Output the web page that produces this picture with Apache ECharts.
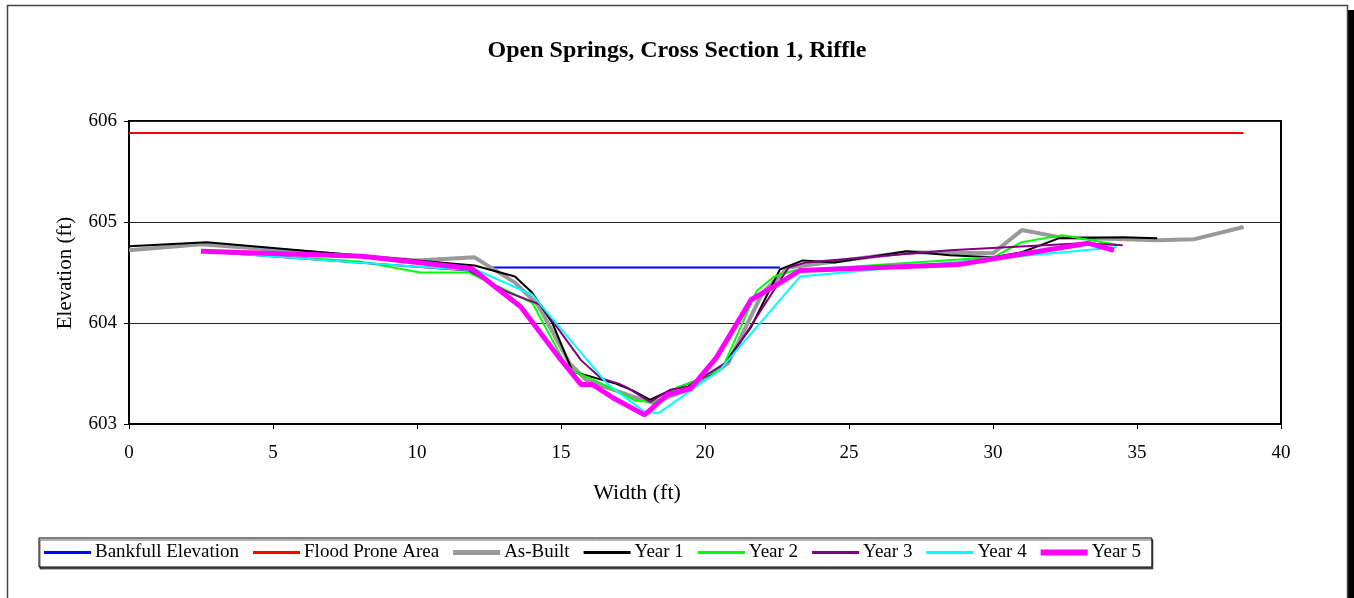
<!DOCTYPE html>
<html>
<head>
<meta charset="utf-8">
<script src="https://cdn.jsdelivr.net/npm/echarts@6/dist/echarts.min.js"></script>
<style>
  html, body { margin: 0; padding: 0; background: #fff; }
  #chart { width: 1354px; height: 598px; }
</style>
</head>
<body>
<div id="chart"></div>
<script>
// Cross-section survey: station (ft) vs elevation (ft)
const titleText = 'Open Springs, Cross Section 1, Riffle';
const xTicks = [0, 5, 10, 15, 20, 25, 30, 35, 40];
const yTicks = [603, 604, 605, 606];

const bankfull = [[12.5, 604.55], [22.6, 604.55]];
const floodProne = [[0, 605.88], [38.7, 605.88]];

const asBuilt = [
  [0, 604.72], [2.5, 604.78], [10.0, 604.62], [12.0, 604.65], [13.4, 604.40],
  [14.2, 604.18], [15.3, 603.60], [15.9, 603.43], [17.5, 603.27], [18.2, 603.21],
  [19.4, 603.34], [20.8, 603.60], [22.0, 604.30], [22.9, 604.55], [27.0, 604.70],
  [30.0, 604.69], [31.0, 604.92], [32.3, 604.85], [35.7, 604.82], [37.0, 604.83],
  [38.7, 604.95]
];
const year1 = [
  [0, 604.76], [2.7, 604.80], [12.0, 604.57], [13.4, 604.46], [14.0, 604.30],
  [14.7, 604.00], [15.4, 603.52], [16.9, 603.40], [17.5, 603.33], [18.1, 603.24],
  [18.7, 603.32], [19.6, 603.42], [20.5, 603.53], [21.6, 603.96], [22.6, 604.53],
  [23.4, 604.62], [24.5, 604.60], [27.0, 604.71], [28.5, 604.67], [30.0, 604.65],
  [31.0, 604.70], [32.3, 604.84], [34.5, 604.85], [35.7, 604.84]
];
const year2 = [
  [2.5, 604.71], [8.0, 604.61], [10.1, 604.50], [11.8, 604.50], [14.0, 604.20],
  [15.1, 603.62], [15.4, 603.53], [16.4, 603.40], [17.6, 603.23], [18.3, 603.22],
  [19.1, 603.37], [19.6, 603.42], [20.6, 603.55], [21.8, 604.32], [22.4, 604.46],
  [23.1, 604.52], [30.0, 604.65], [31.0, 604.80], [32.4, 604.87], [34.4, 604.77]
];
const year3 = [
  [2.5, 604.71], [11.8, 604.52], [13.1, 604.31], [14.3, 604.18], [15.7, 603.63],
  [16.4, 603.45], [17.0, 603.40], [17.3, 603.36], [18.1, 603.22], [18.8, 603.34],
  [19.4, 603.37], [20.8, 603.62], [22.9, 604.55], [23.5, 604.60], [28.5, 604.72],
  [33.1, 604.79], [34.5, 604.77]
];
const year4 = [
  [2.5, 604.71], [9.4, 604.57], [12.1, 604.52], [14.0, 604.28], [16.6, 603.40],
  [17.9, 603.12], [18.4, 603.11], [20.5, 603.53], [23.3, 604.46], [34.3, 604.75]
];
const year5 = [
  [2.5, 604.71], [8.1, 604.66], [11.9, 604.54], [13.6, 604.16], [14.9, 603.67],
  [15.7, 603.39], [16.1, 603.39], [16.8, 603.26], [17.9, 603.09], [18.7, 603.29],
  [19.5, 603.35], [20.4, 603.66], [21.6, 604.23], [22.5, 604.38], [23.3, 604.52],
  [28.8, 604.58], [33.3, 604.79], [34.2, 604.72]
];

const serif = "'Liberation Serif', 'Times New Roman', serif";

// Legend key: a horizontal stroke of the given thickness centred in a 47x14 box
// (two invisible corner specks pin the path's bounding box to the full box).
function strokeIcon(t) {
  const y0 = 7 - t / 2;
  return 'path://M0,0L0.01,0L0,0.01Z M47,14L46.99,14L47,13.99Z M0,' + y0 + 'H47V' + (y0 + t) + 'H0Z';
}

function line(name, data, color, width) {
  return {
    name, type: 'line', data,
    showSymbol: false, symbol: 'none', animation: false,
    lineStyle: { color, width }, itemStyle: { color },
    emphasis: { disabled: true }
  };
}

const chart = echarts.init(document.getElementById('chart'), null, { renderer: 'canvas' });
chart.setOption({
  backgroundColor: '#fff',
  animation: false,
  title: {
    text: titleText, left: 'center', top: 34,
    textStyle: { fontFamily: serif, fontSize: 24, fontWeight: 'bold', color: '#000' }
  },
  grid: {
    left: 129, right: 73, top: 121, bottom: 174,
    show: true, borderColor: '#000', borderWidth: 2, backgroundColor: '#fff'
  },
  xAxis: {
    type: 'value', min: xTicks[0], max: xTicks[xTicks.length - 1], interval: 5,
    axisLine: { show: true, lineStyle: { color: '#000', width: 2 } },
    axisTick: { show: true, inside: false, length: 5, lineStyle: { color: '#000', width: 1 } },
    axisLabel: { fontFamily: serif, fontSize: 19, color: '#000', margin: 20 },
    splitLine: { show: false }
  },
  yAxis: {
    type: 'value', min: yTicks[0], max: yTicks[yTicks.length - 1], interval: 1,
    axisLine: { show: true, lineStyle: { color: '#000', width: 2 } },
    axisTick: { show: true, inside: false, length: 5, lineStyle: { color: '#000', width: 1 } },
    axisLabel: { fontFamily: serif, fontSize: 19, color: '#000', margin: 12 },
    splitLine: { show: true, lineStyle: { color: '#222', width: 1 } }
  },
  legend: {
    left: 39, top: 538,
    itemWidth: 47, itemHeight: 14, itemGap: 14,
    symbolKeepAspect: false,
    padding: [5, 11, 5, 5],
    borderColor: '#000', borderWidth: 1, backgroundColor: '#fff',
    shadowColor: 'rgba(0,0,0,0.6)', shadowOffsetX: 1, shadowOffsetY: 2,
    textStyle: { fontFamily: serif, fontSize: 19, color: '#000', padding: [0, 0, 0, -1] },
    data: [
      { name: 'Bankfull Elevation', icon: strokeIcon(3) },
      { name: 'Flood Prone Area', icon: strokeIcon(3) },
      { name: 'As-Built', icon: strokeIcon(5) },
      { name: 'Year 1', icon: strokeIcon(3) },
      { name: 'Year 2', icon: strokeIcon(3) },
      { name: 'Year 3', icon: strokeIcon(3) },
      { name: 'Year 4', icon: strokeIcon(3) },
      { name: 'Year 5', icon: strokeIcon(6) }
    ],
    selectedMode: false
  },
  graphic: [
    // chart-area frame with a drop shadow on the right edge
    { type: 'rect', z: -10, shape: { x: 1347, y: 10, width: 7, height: 600 }, style: { fill: '#000' } },
    { type: 'rect', z: -9, shape: { x: 7.5, y: 5.5, width: 1340, height: 600 },
      style: { fill: 'rgba(0,0,0,0)', stroke: '#444', lineWidth: 1.5 } },
    { type: 'text', x: 637, y: 493,
      style: { text: 'Width (ft)', font: '22px ' + serif, fill: '#000', align: 'center', verticalAlign: 'middle' } },
    { type: 'text', x: 65, y: 273, rotation: Math.PI / 2,
      style: { text: 'Elevation (ft)', font: '21px ' + serif, fill: '#000', align: 'center', verticalAlign: 'middle' } }
  ],
  series: [
    line('Bankfull Elevation', bankfull, '#0000ff', 2),
    line('Flood Prone Area', floodProne, '#ff0000', 2),
    line('As-Built', asBuilt, '#999999', 4),
    line('Year 1', year1, '#000000', 2),
    line('Year 2', year2, '#00ff00', 2),
    line('Year 3', year3, '#800080', 2),
    line('Year 4', year4, '#00ffff', 2),
    line('Year 5', year5, '#ff00ff', 5)
  ]
});
</script>
</body>
</html>
